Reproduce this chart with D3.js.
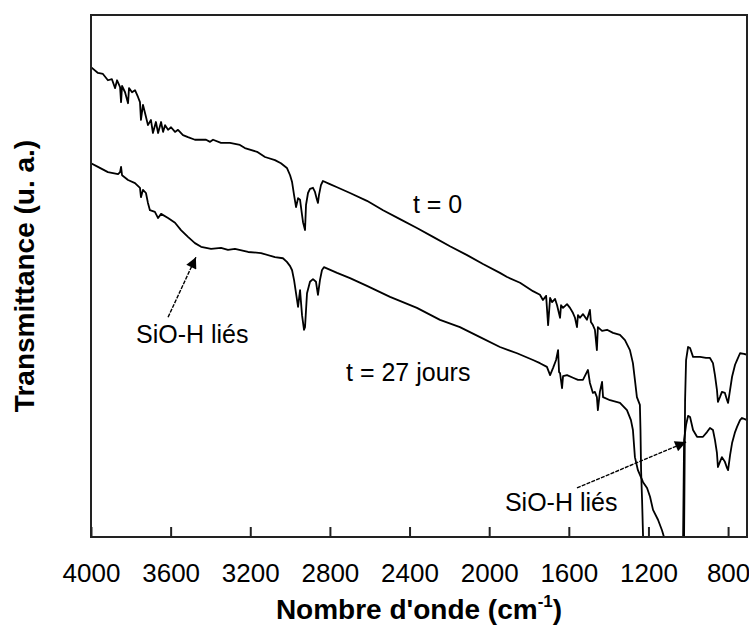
<!DOCTYPE html>
<html><head><meta charset="utf-8">
<script src="https://cdn.jsdelivr.net/npm/d3@7"></script>
<style>body{margin:0;background:#fff}svg{display:block}text{font-family:"Liberation Sans",Arial,sans-serif;fill:#000}</style>
</head><body>
<script>
// Tick labels (wavenumber, cm^-1)
const xTicks = [4000, 3600, 3200, 2800, 2400, 2000, 1600, 1200, 800];
// t = 0 spectrum: [wavenumber, transmittance (a.u.)]
const seriesT0 = [
[4000,90.0],[3965,88.9],[3940,88.7],[3915,87.5],[3895,87.7],[3879,86.0],[3869,87.5],[3854,86.2],[3849,83.3],[3844,86.4],
[3829,85.2],[3814,83.1],[3809,86.0],[3794,85.2],[3779,85.6],[3764,84.3],[3754,83.3],[3749,79.9],[3739,82.8],[3724,80.5],
[3714,78.9],[3699,79.9],[3689,77.4],[3674,79.5],[3663,77.4],[3648,79.5],[3638,77.6],[3628,78.9],[3613,78.0],[3598,78.5],
[3578,77.6],[3563,78.0],[3538,77.0],[3513,76.6],[3478,76.1],[3422,76.1],[3402,75.7],[3387,76.1],[3347,75.5],[3302,75.5],
[3252,75.1],[3227,74.5],[3166,73.8],[3126,72.8],[3076,72.2],[3046,71.6],[3016,70.7],[3000,69.3],[2990,68.0],[2980,65.5],
[2970,63.2],[2960,64.9],[2950,64.6],[2940,61.7],[2935,60.3],[2925,58.8],[2920,63.6],[2910,65.9],[2900,66.7],[2885,66.9],
[2875,66.1],[2865,64.6],[2860,64.0],[2855,65.5],[2845,67.4],[2835,68.2],[2800,67.6],[2764,67.0],[2699,65.9],[2614,64.4],
[2533,62.6],[2448,60.9],[2363,59.2],[2282,57.5],[2197,55.7],[2111,54.0],[2031,52.3],[1946,50.6],[1910,49.8],[1845,48.7],
[1780,47.1],[1745,46.4],[1730,45.4],[1714,46.2],[1704,40.6],[1694,45.8],[1684,45.0],[1669,45.6],[1659,44.4],[1644,42.0],
[1639,44.4],[1629,43.9],[1609,44.6],[1594,43.9],[1579,42.9],[1569,42.0],[1559,40.2],[1554,42.5],[1544,42.0],[1529,42.7],
[1509,41.6],[1494,43.5],[1489,41.2],[1479,40.6],[1469,39.7],[1459,35.8],[1454,40.2],[1433,39.5],[1408,39.7],[1378,39.1],
[1343,38.7],[1318,37.7],[1293,35.8],[1278,33.3],[1268,30.1],[1258,26.8],[1243,25.3],[1240,20.5],[1237,12.8],[1232,7.1],
[1227,0],[1222,-5],[1026,-5],[1021,0],[1016,26.2],[1011,33.9],[1001,36.4],[991,36.2],[976,34.5],[941,34.5],
[911,34.3],[891,34.3],[876,33.3],[866,31.0],[856,28.2],[851,25.9],[841,26.8],[831,27.8],[816,27.6],[805,26.2],
[800,25.7],[790,28.2],[780,30.7],[765,33.0],[755,33.9],[740,35.2],[720,35.1],[705,34.9]
];
// t = 27 jours spectrum
const seriesT27 = [
[4000,71.6],[3965,70.9],[3915,69.9],[3864,69.5],[3854,69.9],[3849,70.9],[3844,69.3],[3814,68.4],[3779,67.8],[3754,66.9],
[3749,65.1],[3739,66.5],[3724,65.9],[3714,64.0],[3704,62.6],[3679,62.3],[3663,61.1],[3648,61.9],[3613,61.1],[3578,60.2],
[3548,58.8],[3513,57.5],[3478,56.3],[3447,55.6],[3397,55.2],[3347,55.4],[3312,55.0],[3277,55.2],[3211,54.6],[3146,54.4],
[3076,53.6],[3036,53.4],[3016,52.7],[3000,51.9],[2990,51.1],[2980,49.2],[2965,45.4],[2960,44.1],[2950,47.3],[2940,42.5],
[2930,39.7],[2925,40.2],[2915,46.7],[2900,48.9],[2885,49.4],[2870,48.9],[2860,46.4],[2850,49.2],[2840,51.1],[2830,51.7],
[2764,50.6],[2699,49.6],[2614,48.1],[2498,46.0],[2363,43.9],[2247,41.6],[2147,40.2],[2046,38.3],[1946,36.4],[1860,35.2],
[1780,33.9],[1745,33.3],[1710,32.6],[1694,31.0],[1679,32.4],[1664,33.9],[1654,35.8],[1649,31.6],[1644,31.4],[1634,28.5],
[1629,30.8],[1609,31.0],[1579,30.5],[1554,30.1],[1529,30.1],[1504,32.0],[1494,29.5],[1479,27.6],[1469,27.8],[1459,26.8],
[1454,24.3],[1444,27.8],[1433,29.7],[1428,26.8],[1393,26.2],[1343,25.7],[1308,24.3],[1288,22.4],[1278,20.5],[1268,15.3],
[1253,12.8],[1227,10.5],[1207,9.4],[1192,7.7],[1177,5.2],[1152,3.3],[1132,1.3],[1122,0],[1112,-5],[1031,-5],
[1026,0],[1021,18.6],[1011,21.5],[1001,23.2],[991,23.0],[976,20.5],[956,19.2],[926,19.2],[906,20.1],[891,20.9],
[876,20.5],[866,18.6],[856,16.1],[851,13.4],[841,14.4],[831,15.3],[816,14.4],[805,13.2],[800,12.8],[790,15.7],
[780,18.0],[765,20.1],[755,21.1],[740,22.4],[730,22.8],[705,22.4]
];
// Text labels: [text, wavenumber, value]
const labels = [["t = 0",2383,62.1],["t = 27 jours",2719,29.9],["SiO-H liés",3774,37.2],["SiO-H liés",1921,5.0]];
// Arrows: [fromWn, fromVal, toWn, toVal]
const arrows = [[3613,42.1,3473,53.6],[1559,9.4,1011,18.2]];

const W=749,H=625, L=91,R=747,T=15,B=537;
const svg=d3.select("body").append("svg").attr("width",W).attr("height",H);
const x=d3.scaleLinear().domain([4000,705]).range([L,R]);
const y=d3.scaleLinear().domain([0,100]).range([B,T]);

svg.append("defs").append("clipPath").attr("id","clip").append("rect")
  .attr("x",L).attr("y",T).attr("width",R-L).attr("height",B-T);
const mk=svg.select("defs").append("marker").attr("id","ah").attr("viewBox","0 0 10 10")
  .attr("refX",10).attr("refY",5).attr("markerWidth",17).attr("markerHeight",11)
  .attr("markerUnits","userSpaceOnUse").attr("orient","auto");
mk.append("path").attr("d","M0,0L10,5L0,10Z").attr("fill","#000");

const line=d3.line().x(d=>x(d[0])).y(d=>y(d[1]));
const g=svg.append("g").attr("clip-path","url(#clip)");
[seriesT0,seriesT27].forEach(s=>{
  g.append("path").datum(s).attr("d",line).attr("fill","none").attr("stroke","#000").attr("stroke-width",1.8).attr("stroke-linejoin","round");
});

// frame
svg.append("rect").attr("x",L).attr("y",T).attr("width",R-L).attr("height",B-T)
  .attr("fill","none").attr("stroke","#222").attr("stroke-width",2);
// bottom axis ticks (inward)
const ax=d3.axisBottom(x).tickValues(xTicks).tickSize(-10).tickPadding(14).tickFormat(d3.format("d"));
const axg=svg.append("g").attr("transform",`translate(0,${B})`).call(ax);
axg.select(".domain").remove();
axg.selectAll(".tick line").attr("stroke","#222").attr("stroke-width",2);
axg.selectAll(".tick text").attr("font-size",26).attr("font-family","Liberation Sans, Arial, sans-serif").attr("fill","#000").attr("dy",0).attr("y",45);

labels.forEach(l=>{
  svg.append("text").attr("x",x(l[1])).attr("y",y(l[2])).attr("font-size",25).text(l[0]);
});
arrows.forEach(a=>{
  svg.append("line").attr("x1",x(a[0])).attr("y1",y(a[1])).attr("x2",x(a[2])).attr("y2",y(a[3]))
    .attr("stroke","#000").attr("stroke-width",1.4).attr("stroke-dasharray","4,1.2").attr("marker-end","url(#ah)");
});

// axis titles
const xt=svg.append("text").attr("x",(L+R)/2).attr("y",619).attr("text-anchor","middle")
  .attr("font-size",28).attr("font-weight","bold");
xt.append("tspan").text("Nombre d'onde (cm");
xt.append("tspan").attr("font-size",17).attr("dy",-12).text("-1");
xt.append("tspan").attr("dy",12).text(")");
svg.append("text").attr("transform",`translate(34,${(T+B)/2}) rotate(-90)`).attr("text-anchor","middle")
  .attr("font-size",28).attr("font-weight","bold").text("Transmittance (u. a.)");
</script>
</body></html>
